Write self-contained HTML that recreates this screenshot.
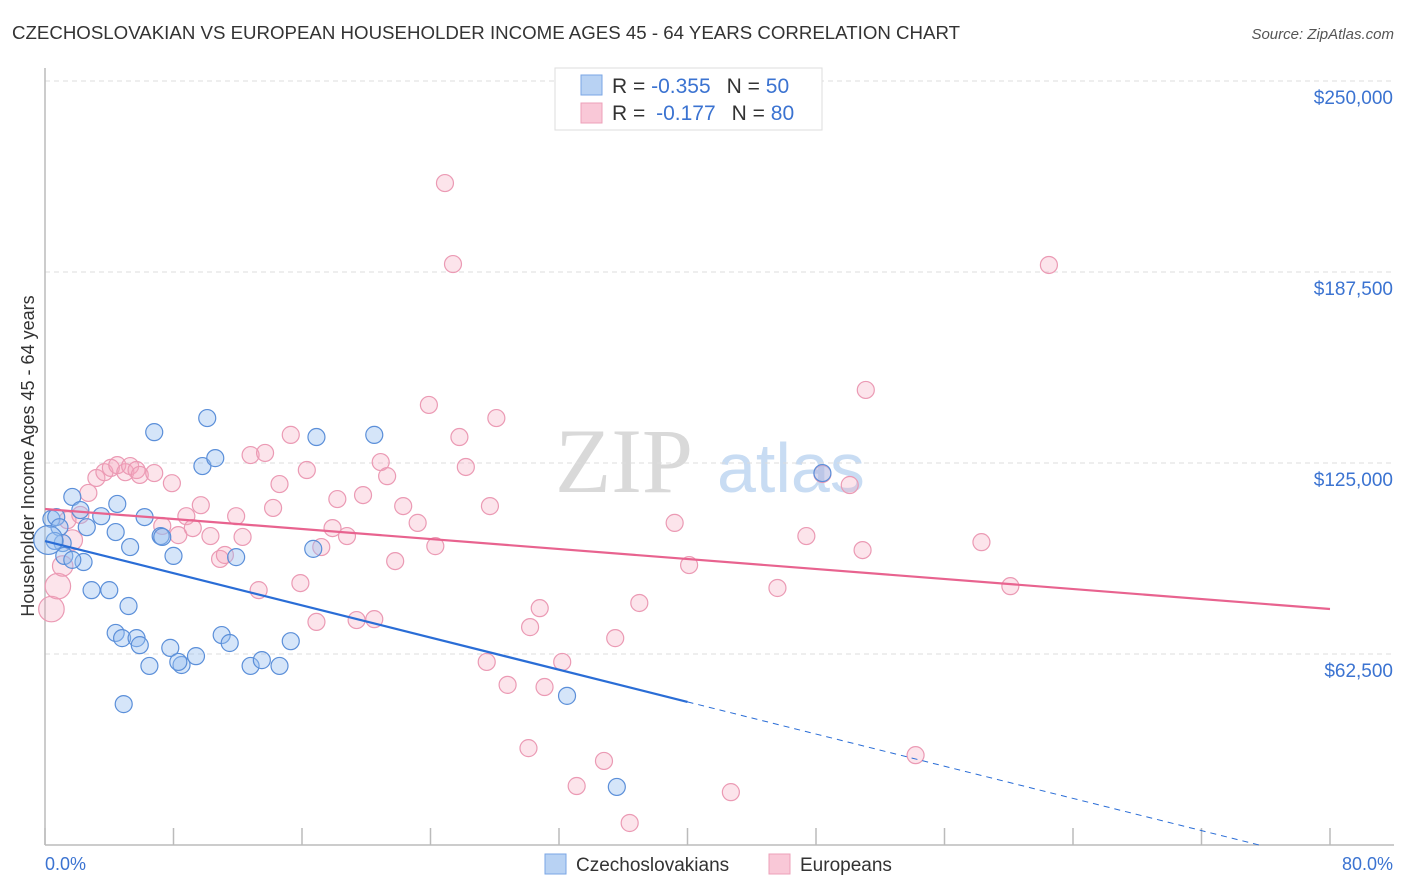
<!DOCTYPE html>
<html><head><meta charset="utf-8"><style>
body{margin:0;background:#fff;font-family:"Liberation Sans",sans-serif;}
svg{display:block}
</style></head><body>
<svg id="chart" width="1406" height="892" xmlns="http://www.w3.org/2000/svg">
<text x="12" y="39" font-size="18" fill="#333" textLength="948" lengthAdjust="spacingAndGlyphs">CZECHOSLOVAKIAN VS EUROPEAN HOUSEHOLDER INCOME AGES 45 - 64 YEARS CORRELATION CHART</text>
<text x="1394" y="39" font-size="15" fill="#555" font-style="italic" text-anchor="end">Source: ZipAtlas.com</text>
<text x="555" y="492" font-size="92" fill="#d9d9d9" font-family="Liberation Serif,serif">ZIP</text>
<text x="717" y="492" font-size="70" fill="#c8dcf3">atlas</text>
<g id="grid"></g>
<line x1="45" y1="68" x2="45" y2="845" stroke="#bbb" stroke-width="1.5"/>
<line x1="45" y1="845" x2="1394" y2="845" stroke="#bbb" stroke-width="1.5"/>
<g id="xticks"></g>
<text transform="translate(34,456) rotate(-90)" font-size="18" fill="#333" text-anchor="middle">Householder Income Ages 45 - 64 years</text>
<text x="45" y="870" font-size="18" fill="#3b73d1">0.0%</text>
<text x="1393" y="870" font-size="18" fill="#3b73d1" text-anchor="end">80.0%</text>
<g id="pts"></g>
<g id="trends"></g>
<g>
<rect x="555" y="68" width="267" height="62" fill="#fff" stroke="#ddd"/>
<rect x="581" y="75" width="21" height="20" fill="#b8d2f3" stroke="#7aa6e4"/>
<rect x="581" y="103" width="21" height="20" fill="#f9c8d7" stroke="#eda0b9"/>
<text x="612" y="93" font-size="21" fill="#333">R = <tspan fill="#3b73d1">-0.355</tspan><tspan dx="16">N = </tspan><tspan fill="#3b73d1">50</tspan></text>
<text x="612" y="120" font-size="21" fill="#333">R = <tspan dx="5" fill="#3b73d1">-0.177</tspan><tspan dx="16">N = </tspan><tspan fill="#3b73d1">80</tspan></text>
</g>
<g>
<rect x="545" y="854" width="21" height="20" fill="#b8d2f3" stroke="#7aa6e4"/>
<text x="576" y="871" font-size="19" fill="#333">Czechoslovakians</text>
<rect x="769" y="854" width="21" height="20" fill="#f9c8d7" stroke="#eda0b9"/>
<text x="800" y="871" font-size="19" fill="#333">Europeans</text>
</g>
</svg>
<script>
const yTicks=[62500,125000,187500,250000];
const yTickLabels=["$62,500","$125,000","$187,500","$250,000"];
const xTicks=[0,8,16,24,32,40,48,56,64,72,80];
const blueX=[0.4,0.7,0.9,1.1,0.6,1.7,2.2,2.6,2.4,1.2,1.7,2.9,4.0,5.2,4.4,4.8,5.7,5.9,4.5,4.4,3.5,5.3,6.8,6.2,7.2,7.3,8.0,6.5,7.8,8.5,8.3,9.4,10.1,9.8,10.6,11.0,11.5,11.9,12.8,13.5,14.6,15.3,16.9,16.7,20.5,48.4,32.5,35.6,4.9,0.2];
const blueY=[106.7,107.3,104.0,98.8,99.5,113.9,109.6,104.0,92.6,94.6,93.3,83.4,83.4,78.2,69.4,67.7,67.7,65.4,111.6,102.4,107.6,97.5,135.1,107.3,101.1,100.8,94.6,58.6,64.5,58.9,59.9,61.8,139.7,124.0,126.6,68.7,66.1,94.2,58.6,60.5,58.6,66.7,133.5,96.9,134.2,121.7,48.8,19.0,46.1,99.8];
const blueSize=[1,1,1,1,1,1,1,1,1,1,1,1,1,1,1,1,1,1,1,1,1,1,1,1,1,1,1,1,1,1,1,1,1,1,1,1,1,1,1,1,1,1,1,1,1,1,1,1,1,1.7];
const pinkX=[0.4,0.8,1.1,1.7,1.4,2.2,2.7,3.2,3.7,4.1,4.5,5.0,5.3,5.7,5.9,6.8,7.9,7.3,8.3,9.7,8.8,9.2,10.3,10.9,11.2,11.9,12.3,12.8,13.7,13.3,14.6,14.2,15.3,16.3,15.9,16.9,17.2,17.9,18.8,18.2,19.8,19.4,20.5,20.9,21.3,21.8,22.3,23.2,23.9,24.3,24.9,25.4,25.8,26.2,27.7,28.1,27.5,28.8,30.1,30.2,30.8,31.1,32.2,33.1,34.8,35.5,36.4,37.0,39.2,40.1,42.7,45.6,47.4,48.4,50.1,50.9,51.1,54.2,58.3,60.1,62.5];
const pinkY=[77.2,84.7,91.3,99.8,106.3,108.0,115.2,120.1,122.0,123.4,124.3,122.0,124.0,122.7,121.1,121.7,118.4,104.4,101.4,111.2,107.6,103.7,101.1,93.6,94.9,107.6,100.8,127.6,128.3,83.4,118.1,110.3,134.2,122.7,85.7,73.0,97.5,103.7,101.1,113.2,114.5,73.6,73.9,125.3,120.7,92.9,110.9,105.4,144.0,97.8,216.6,190.1,133.5,123.7,110.9,139.7,59.9,52.4,31.7,71.3,77.5,51.7,59.9,19.3,27.5,67.7,7.2,79.2,105.4,91.6,17.3,84.1,101.1,121.4,117.8,96.5,148.9,29.4,99.1,84.7,189.8];
const pinkSize=[1.5,1.5,1.2,1.2,1];
const blueTrend=[99.47,-1.316];
const pinkTrend=[109.94,-0.409];
const NS="http://www.w3.org/2000/svg";
const sx=v=>45+v*(1330-45)/80;
const sy=v=>845-v/62500*191;
const syk=v=>sy(v*1000);
function mk(tag,attrs,parent){const e=document.createElementNS(NS,tag);for(const k in attrs)e.setAttribute(k,attrs[k]);parent.appendChild(e);return e;}
const grid=document.getElementById('grid');
yTicks.forEach((t,i)=>{
  const l=mk('line',{x1:45,x2:1394,y1:sy(t),y2:sy(t),stroke:'#ddd','stroke-dasharray':'5,4'},grid);
  
  
  const tx=mk('text',{x:1393,y:sy(t)+23,'font-size':19,fill:'#3b73d1','text-anchor':'end'},grid);
  tx.textContent=yTickLabels[i];
  
  
});
const xt=document.getElementById('xticks');
xTicks.forEach(t=>{
  const l=mk('line',{x1:sx(t),x2:sx(t),y1:828,y2:845,stroke:'#bbb','stroke-width':1.5},xt);
  
  
});
const pts=document.getElementById('pts');
pinkX.forEach((x,i)=>{
  const c=mk('circle',{cx:sx(x),cy:syk(pinkY[i]),r:8.5*(pinkSize[i]||1),fill:'rgba(245,165,190,0.3)',stroke:'#eb9ab4','stroke-width':1.2},pts);
  
  
});
blueX.forEach((x,i)=>{
  const c=mk('circle',{cx:sx(x),cy:syk(blueY[i]),r:8.5*(blueSize[i]||1),fill:'rgba(150,190,240,0.4)',stroke:'#5b8fd9','stroke-width':1.2},pts);
  
  
});
const tr=document.getElementById('trends');
const bf=x=>blueTrend[0]+blueTrend[1]*x, pf=x=>pinkTrend[0]+pinkTrend[1]*x;
let l1=mk('line',{x1:sx(0),y1:syk(bf(0)),x2:sx(40),y2:syk(bf(40)),stroke:'#2a6dd6','stroke-width':2.2},tr);


const xEnd=-blueTrend[0]/blueTrend[1];
let l2=mk('line',{x1:sx(40),y1:syk(bf(40)),x2:sx(xEnd),y2:syk(0),stroke:'#2a6dd6','stroke-width':1,'stroke-dasharray':'6,5'},tr);


let l3=mk('line',{x1:sx(0),y1:syk(pf(0)),x2:sx(80),y2:syk(pf(80)),stroke:'#e8638f','stroke-width':2.2},tr);


</script>
</body></html>
